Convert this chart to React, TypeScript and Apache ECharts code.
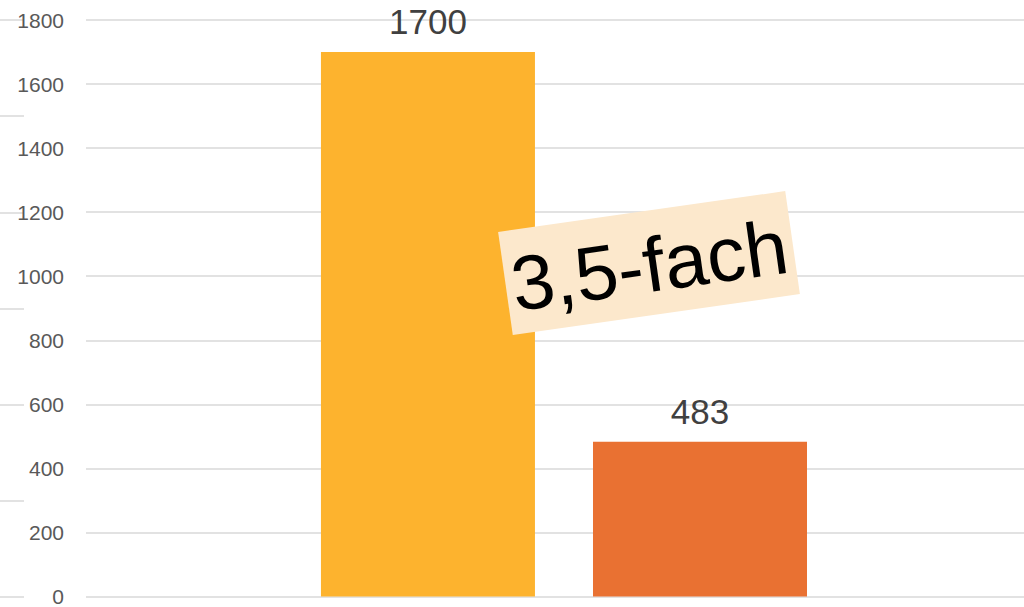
import React, { useEffect, useRef } from "react";
import * as echarts from "echarts";

const barPositions = [1, 2];
const barValues = [1700, 483];
const barColors = ["#FDB32E", "#E97132"];
const yTicks = { min: 0, max: 1800, interval: 200 };
const stubInterval = 300;
const annotationText = "3,5-fach";

export default function App() {
  const ref = useRef<HTMLDivElement>(null);
  useEffect(() => {
    if (!ref.current) return;
    const chart = echarts.init(ref.current, null, { renderer: "svg" });
    const font = "'Liberation Sans', Arial, sans-serif";
    chart.setOption({
      animation: false,
      backgroundColor: "#FFFFFF",
      grid: [
        { left: 86, right: 0, top: 20, bottom: 10 },
        { left: 0, width: 24, top: 20, bottom: 10 },
      ],
      xAxis: [
        {
          type: "value",
          gridIndex: 0,
          min: -0.257,
          max: 3.191,
          show: false,
          splitLine: { show: false },
        },
        { type: "value", gridIndex: 1, min: 0, max: 1, show: false, splitLine: { show: false } },
      ],
      yAxis: [
        {
          type: "value",
          gridIndex: 0,
          min: yTicks.min,
          max: yTicks.max,
          interval: yTicks.interval,
          axisLine: { show: false },
          axisTick: { show: false },
          axisLabel: {
            margin: 22,
            fontSize: 21,
            color: "#595959",
            fontFamily: font,
            formatter: (v: number) => String(v),
          },
          splitLine: { lineStyle: { color: "#D9D9D9", width: 1.5 } },
        },
        {
          type: "value",
          gridIndex: 1,
          min: yTicks.min,
          max: yTicks.max,
          interval: stubInterval,
          axisLine: { show: false },
          axisTick: { show: false },
          axisLabel: { show: false },
          splitLine: { lineStyle: { color: "#D9D9D9", width: 1.5 } },
        },
      ],
      series: [
        {
          type: "bar",
          xAxisIndex: 0,
          yAxisIndex: 0,
          barWidth: 214,
          data: barPositions.map((p, i) => ({
            value: [p, barValues[i]],
            itemStyle: { color: barColors[i] },
          })),
          label: {
            show: true,
            position: "top",
            distance: 13,
            fontSize: 35,
            color: "#404040",
            fontFamily: font,
            formatter: (p: any) => String(p.value[1]),
          },
        },
      ],
      graphic: {
        elements: [
          {
            type: "group",
            x: 649,
            y: 263,
            rotation: 0.1414,
            z: 100,
            zlevel: 1,
            children: [
              {
                type: "rect",
                z: 100,
                zlevel: 1,
                shape: { x: -145, y: -52, width: 290, height: 104 },
                style: { fill: "#FCE8CC" },
              },
              {
                type: "text",
                z: 101,
                zlevel: 1,
                x: 0,
                y: 2,
                style: {
                  text: annotationText,
                  fontSize: 77,
                  fontFamily: font,
                  fill: "#000000",
                  align: "center",
                  verticalAlign: "middle",
                },
              },
            ],
          },
        ],
      },
    });
    return () => chart.dispose();
  }, []);
  return (
    <div
      ref={ref}
      style={{ position: "fixed", left: 0, top: 0, width: 1024, height: 607 }}
    />
  );
}
